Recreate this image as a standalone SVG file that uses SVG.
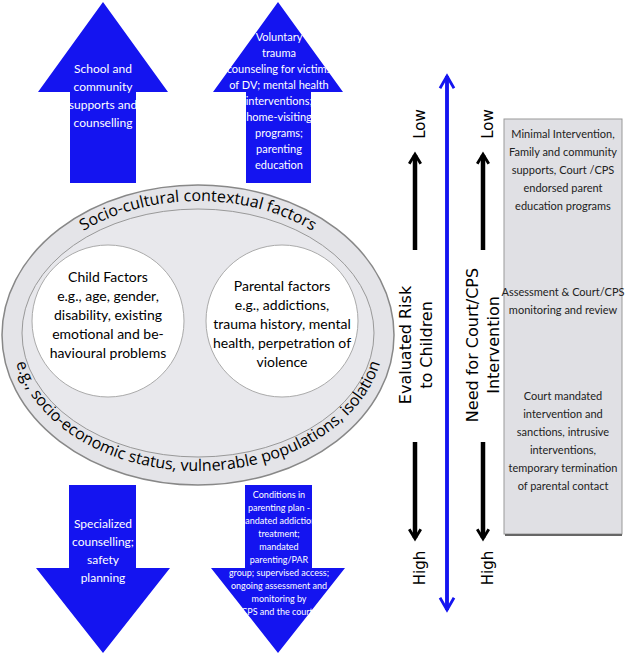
<svg xmlns="http://www.w3.org/2000/svg" width="628" height="656" viewBox="0 0 628 656">
<style>
.ba{fill:#1414f0}
.wt{fill:#fff;font-family:Lato,sans-serif;font-size:12px;text-anchor:middle}
.mt{fill:#fff;font-family:Lato,sans-serif;font-size:11px;text-anchor:middle}
.st{fill:#fff;font-family:Lato,sans-serif;font-size:9px;text-anchor:middle}
.ct{fill:#000;font-family:Lato,sans-serif;font-size:14px;text-anchor:middle}
.vt{fill:#000;font-family:"DejaVu Sans",sans-serif;font-size:16px;text-anchor:middle}
.lt{fill:#000;font-family:"DejaVu Sans",sans-serif;font-size:15px;text-anchor:middle}
.gt{fill:#222;font-family:Lato,sans-serif;font-size:11px;text-anchor:middle}
.arc{fill:#000;font-family:"Open Sans",sans-serif;font-size:16px}
</style>
<defs>
<marker id="bk" viewBox="0 0 10 10" refX="7" refY="5" markerWidth="3.2" markerHeight="3.6" orient="auto"><path d="M1,1 L7.5,5 L1,9" fill="none" stroke="#000" stroke-width="2"/></marker>
<marker id="bl" viewBox="0 0 10 10" refX="8" refY="5" markerWidth="5" markerHeight="5" orient="auto"><path d="M1,1 L8,5 L1,9" fill="none" stroke="#1414f0" stroke-width="1.6"/></marker>
<path id="topArc" d="M16,335 A182,134 0 0 1 380,335"/>
<path id="botArc" d="M12,335 A186,136 0 0 0 384,335"/>
</defs>
<g id="up1"><path class="ba" d="M103,2 L168,92 L136,92 L136,183 L70,183 L70,92 L38,92 Z"/>
<text class="wt"><tspan x="103" y="73">School and</tspan><tspan x="103" y="91">community</tspan><tspan x="103" y="109">supports and</tspan><tspan x="103" y="127">counselling</tspan></text></g>
<g id="up2"><path class="ba" d="M278,2 L343,92 L311,92 L311,183 L246,183 L246,92 L213,92 Z"/>
<text class="mt"><tspan x="279" y="41">Voluntary</tspan><tspan x="279" y="57">trauma</tspan><tspan x="279" y="73">counseling for victims</tspan><tspan x="279" y="89">of DV; mental health</tspan><tspan x="279" y="105">interventions;</tspan><tspan x="279" y="121">home-visiting</tspan><tspan x="279" y="137">programs;</tspan><tspan x="279" y="153">parenting</tspan><tspan x="279" y="169">education</tspan></text></g>
<g id="down1"><path class="ba" d="M69,485 L136,485 L136,568 L170,568 L103,653 L36,568 L69,568 Z"/>
<text class="wt"><tspan x="103" y="528">Specialized</tspan><tspan x="103" y="546">counselling;</tspan><tspan x="103" y="564">safety</tspan><tspan x="103" y="582">planning</tspan></text></g>
<g id="down2"><path class="ba" d="M245,485 L312,485 L312,568 L345,568 L278,653 L211,568 L245,568 Z"/>
<text class="st"><tspan x="279" y="498">Conditions in</tspan><tspan x="279" y="511">parenting plan -</tspan><tspan x="279" y="524">mandated addictions</tspan><tspan x="279" y="537">treatment;</tspan><tspan x="279" y="550">mandated</tspan><tspan x="279" y="563">parenting/PAR</tspan><tspan x="279" y="576">group; supervised access;</tspan><tspan x="279" y="589">ongoing assessment and</tspan><tspan x="279" y="602">monitoring by</tspan><tspan x="279" y="615">CPS and the courts</tspan></text></g>
<g id="context">
<ellipse cx="198" cy="335" rx="196" ry="150" fill="#e4e4e8" stroke="#888" stroke-width="1.5"/>
<ellipse cx="198" cy="333" rx="176" ry="124" fill="#e8e8ec" stroke="#999" stroke-width="1"/>
<text class="arc"><textPath href="#topArc" startOffset="50%" text-anchor="middle">Socio-cultural contextual factors</textPath></text>
<text class="arc" font-size="15"><textPath href="#botArc" startOffset="50%" text-anchor="middle">e.g., socio-economic status, vulnerable populations, isolation</textPath></text>
</g>
<g id="child"><circle cx="108" cy="321" r="76" fill="#fff" stroke="#aaa"/>
<text class="ct"><tspan x="108" y="282">Child Factors</tspan><tspan x="108" y="301">e.g., age, gender,</tspan><tspan x="108" y="320">disability, existing</tspan><tspan x="108" y="339">emotional and be-</tspan><tspan x="108" y="358">havioural problems</tspan></text></g>
<g id="parent"><circle cx="282" cy="321" r="76" fill="#fff" stroke="#aaa"/>
<text class="ct"><tspan x="282" y="291">Parental factors</tspan><tspan x="282" y="310">e.g., addictions,</tspan><tspan x="282" y="329">trauma history, mental</tspan><tspan x="282" y="348">health, perpetration of</tspan><tspan x="282" y="367">violence</tspan></text></g>
<g id="connectors" fill="none">
<line x1="415" y1="250" x2="415" y2="155" stroke="#000" stroke-width="4.5" marker-end="url(#bk)"/>
<line x1="415" y1="442" x2="415" y2="538" stroke="#000" stroke-width="4.5" marker-end="url(#bk)"/>
<line x1="483" y1="250" x2="483" y2="155" stroke="#000" stroke-width="4.5" marker-end="url(#bk)"/>
<line x1="483" y1="442" x2="483" y2="538" stroke="#000" stroke-width="4.5" marker-end="url(#bk)"/>
<line x1="447" y1="610" x2="447" y2="76" stroke="#1414f0" stroke-width="3.5" marker-end="url(#bl)"/>
<line x1="447" y1="76" x2="447" y2="610" stroke="#1414f0" stroke-width="3.5" marker-end="url(#bl)"/>
</g>
<g id="labels">
<text class="lt" transform="translate(425,124) rotate(-90)">Low</text>
<text class="lt" transform="translate(425,568) rotate(-90)">High</text>
<text class="lt" transform="translate(493,124) rotate(-90)">Low</text>
<text class="lt" transform="translate(493,568) rotate(-90)">High</text>
<text class="vt" transform="translate(411,345) rotate(-90)">Evaluated Risk</text>
<text class="vt" transform="translate(432,345) rotate(-90)">to Children</text>
<text class="vt" transform="translate(478,345) rotate(-90)">Need for Court/CPS</text>
<text class="vt" transform="translate(499,345) rotate(-90)">Intervention</text>
</g>
<g id="box"><rect x="504" y="119" width="118" height="415" fill="#e0e0e4" stroke="#999"/>
<line x1="505" y1="535" x2="622" y2="535" stroke="#666" stroke-width="2"/>
<text class="gt"><tspan x="563" y="138">Minimal Intervention,</tspan><tspan x="563" y="156">Family and community</tspan><tspan x="563" y="174">supports, Court /CPS</tspan><tspan x="563" y="192">endorsed parent</tspan><tspan x="563" y="210">education programs</tspan></text>
<text class="gt" font-size="10.5"><tspan x="563" y="296">Assessment &amp; Court/CPS</tspan><tspan x="563" y="314">monitoring and review</tspan></text>
<text class="gt"><tspan x="563" y="400">Court mandated</tspan><tspan x="563" y="418">intervention and</tspan><tspan x="563" y="436">sanctions, intrusive</tspan><tspan x="563" y="454">interventions,</tspan><tspan x="563" y="472">temporary termination</tspan><tspan x="563" y="490">of parental contact</tspan></text></g>
</svg>
